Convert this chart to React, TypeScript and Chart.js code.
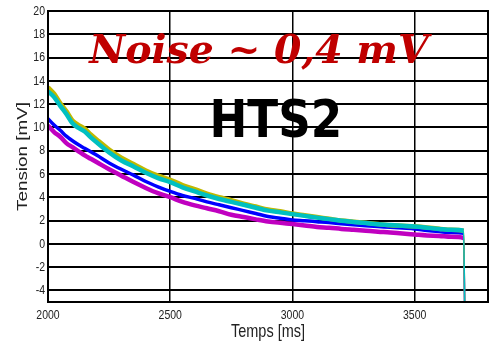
import React, { useEffect, useRef } from "react";
import { Chart, registerables } from "chart.js";

Chart.register(...registerables);

// Time axis (ms)
const times = [2000, 2025, 2050, 2075, 2100, 2125, 2150, 2175, 2200, 2250, 2300, 2350, 2400, 2450, 2500, 2550, 2600, 2650, 2700, 2750, 2800, 2850, 2900, 2950, 3000, 3050, 3100, 3150, 3200, 3250, 3300, 3350, 3400, 3450, 3500, 3550, 3600, 3650, 3700, 3706];

// Series values (mV)
const yellowSeries = [13.45, 12.9, 12.1, 11.4, 10.6, 10.2, 9.9, 9.4, 8.95, 8.1, 7.4, 6.85, 6.3, 5.85, 5.5, 5.05, 4.7, 4.3, 4.0, 3.75, 3.45, 3.2, 2.95, 2.8, 2.6, 2.45, 2.3, 2.15, 2.0, 1.9, 1.8, 1.7, 1.6, 1.55, 1.5, 1.4, 1.3, 1.2, 1.1, -8];
const cyanSeries = [13.1, 12.6, 11.85, 11.15, 10.35, 9.95, 9.65, 9.15, 8.7, 7.85, 7.15, 6.65, 6.1, 5.65, 5.3, 4.85, 4.5, 4.15, 3.85, 3.6, 3.35, 3.1, 2.85, 2.7, 2.55, 2.4, 2.25, 2.12, 1.98, 1.88, 1.78, 1.68, 1.62, 1.55, 1.48, 1.38, 1.28, 1.2, 1.12, -8];
const blueSeries = [10.75, 10.2, 9.75, 9.25, 8.85, 8.5, 8.2, 7.9, 7.6, 6.95, 6.4, 5.9, 5.35, 4.9, 4.5, 4.15, 3.9, 3.6, 3.35, 3.1, 2.85, 2.6, 2.35, 2.2, 2.05, 1.98, 1.9, 1.82, 1.72, 1.63, 1.55, 1.48, 1.42, 1.35, 1.28, 1.15, 1.05, 0.97, 0.9, -8];
const magentaSeries = [10.15, 9.6, 9.2, 8.65, 8.3, 7.95, 7.6, 7.3, 7.0, 6.4, 5.85, 5.3, 4.8, 4.35, 4.0, 3.6, 3.3, 3.05, 2.8, 2.5, 2.3, 2.1, 1.92, 1.8, 1.7, 1.58, 1.45, 1.38, 1.28, 1.2, 1.12, 1.04, 0.97, 0.88, 0.8, 0.72, 0.68, 0.6, 0.5, -8];

// Tick labels
const xTicks = [2000, 2500, 3000, 3500];
const yTicks = [-4, -2, 0, 2, 4, 6, 8, 10, 12, 14, 16, 18, 20];

const xTitle = "Temps [ms]";
const yTitle = "Tension [mV]";
const noiseText = "Noise ~ 0,4 mV";
const hts2Text = "HTS2";

const toPoints = (vals: number[]) => vals.map((v, i) => ({ x: times[i], y: v }));

function fitText(ctx: CanvasRenderingContext2D, text: string, font: string, color: string, x0: number, x1: number, yTop: number, yBase: number) {
  ctx.save();
  ctx.font = font;
  ctx.textAlign = "left";
  ctx.textBaseline = "alphabetic";
  const m = ctx.measureText(text);
  const w = m.actualBoundingBoxLeft + m.actualBoundingBoxRight;
  const asc = m.actualBoundingBoxAscent;
  const sx = (x1 - x0) / w;
  const sy = (yBase - yTop) / asc;
  ctx.translate(x0, yBase);
  ctx.scale(sx, sy);
  ctx.fillStyle = color;
  ctx.fillText(text, m.actualBoundingBoxLeft, 0);
  ctx.restore();
}

const LABEL_FONT = "'Liberation Sans', Arial, sans-serif";

const decorPlugin = {
  id: "decor",
  afterDatasetsDraw(chart: any) {
    const { ctx, chartArea, scales } = chart;
    const xs = scales.x;
    const ys = scales.y;
    // frame
    ctx.save();
    ctx.strokeStyle = "#000";
    ctx.lineWidth = 2;
    ctx.strokeRect(chartArea.left, chartArea.top, chartArea.right - chartArea.left, chartArea.bottom - chartArea.top);
    ctx.restore();

    // tick labels (vertically stretched like the source)
    ctx.save();
    ctx.fillStyle = "#222";
    ctx.font = `10.5px ${LABEL_FONT}`;
    ctx.textBaseline = "middle";
    ctx.textAlign = "right";
    for (const v of yTicks) {
      ctx.save();
      ctx.translate(chartArea.left - 3, ys.getPixelForValue(v));
      ctx.scale(1, 1.3);
      ctx.fillText(String(v), 0, 0);
      ctx.restore();
    }
    ctx.textAlign = "center";
    ctx.textBaseline = "alphabetic";
    for (const v of xTicks) {
      ctx.save();
      ctx.translate(xs.getPixelForValue(v), chartArea.bottom + 16.5);
      ctx.scale(1, 1.3);
      ctx.fillText(String(v), 0, 0);
      ctx.restore();
    }
    ctx.restore();

    // annotations
    fitText(ctx, noiseText, "bold italic 34px 'DejaVu Serif', 'Liberation Serif', serif", "#c00000",
      xs.getPixelForValue(2164), xs.getPixelForValue(3574), ys.getPixelForValue(18.14), ys.getPixelForValue(15.51));
    fitText(ctx, hts2Text, "bold 36px 'DejaVu Sans', sans-serif", "#000",
      xs.getPixelForValue(2676), xs.getPixelForValue(3188), ys.getPixelForValue(12.36), ys.getPixelForValue(9.18));

    // axis titles (stretched like the source)
    ctx.save();
    ctx.fillStyle = "#222";
    ctx.font = `14.5px ${LABEL_FONT}`;
    ctx.textAlign = "center";
    ctx.textBaseline = "alphabetic";
    ctx.translate((chartArea.left + chartArea.right) / 2, 336.7);
    ctx.scale(1, 1.3);
    ctx.fillText(xTitle, 0, 0);
    ctx.restore();

    ctx.save();
    ctx.fillStyle = "#222";
    ctx.font = `14.5px ${LABEL_FONT}`;
    ctx.textAlign = "center";
    ctx.textBaseline = "alphabetic";
    ctx.translate(27, (chartArea.top + chartArea.bottom) / 2);
    ctx.rotate(-Math.PI / 2);
    ctx.scale(1.3, 1);
    ctx.fillText(yTitle, 0, 0);
    ctx.restore();
  },
};

// thin segment for the final drop
const dropWidth = (w: number) => (c: any) => (c.p1.parsed.y < -5 ? 1.5 : w);

export default function App() {
  const canvasRef = useRef<HTMLCanvasElement | null>(null);

  useEffect(() => {
    document.body.style.margin = "0";
    const canvas = canvasRef.current;
    if (!canvas) return;
    const chart = new Chart(canvas, {
      type: "line",
      data: {
        datasets: [
          { label: "cyan", data: toPoints(cyanSeries), borderColor: "#00c0c0", borderWidth: 4.5, order: 0, segment: { borderWidth: dropWidth(4.5) } },
          { label: "yellow", data: toPoints(yellowSeries), borderColor: "#c0b800", borderWidth: 4.5, order: 1, segment: { borderWidth: dropWidth(4.5) } },
          { label: "magenta", data: toPoints(magentaSeries), borderColor: "#c000c0", borderWidth: 4.5, order: 2, segment: { borderWidth: dropWidth(4.5) } },
          { label: "blue", data: toPoints(blueSeries), borderColor: "#0000ff", borderWidth: 3.5, order: 3, segment: { borderWidth: dropWidth(3.5) } },
        ],
      },
      options: {
        animation: false,
        responsive: false,
        devicePixelRatio: 1,
        parsing: false as any,
        elements: { point: { radius: 0 }, line: { cubicInterpolationMode: "monotone" } },
        layout: { padding: { top: 11, right: 2, left: 0, bottom: 0 } },
        plugins: { legend: { display: false }, tooltip: { enabled: false }, title: { display: false } },
        scales: {
          x: {
            type: "linear",
            min: 2000,
            max: 3800,
            afterBuildTicks: (axis: any) => { axis.ticks = xTicks.map((v) => ({ value: v })); },
            afterFit: (axis: any) => { axis.height = 44; },
            grid: { color: "#000", lineWidth: 1.5, drawTicks: false },
            border: { display: true, color: "#000", width: 2 },
            ticks: { display: false },
          },
          y: {
            type: "linear",
            min: -5,
            max: 20,
            afterBuildTicks: (axis: any) => { axis.ticks = yTicks.map((v) => ({ value: v })); },
            afterFit: (axis: any) => { axis.width = 48; },
            grid: { color: "#000", lineWidth: 2, drawTicks: false },
            border: { display: true, color: "#000", width: 2 },
            ticks: { display: false },
          },
        },
      },
      plugins: [decorPlugin],
    });
    return () => chart.destroy();
  }, []);

  return (
    <div style={{ width: 490, height: 346, position: "relative" }}>
      <canvas ref={canvasRef} width={490} height={346} style={{ display: "block", width: 490, height: 346 }} />
    </div>
  );
}
